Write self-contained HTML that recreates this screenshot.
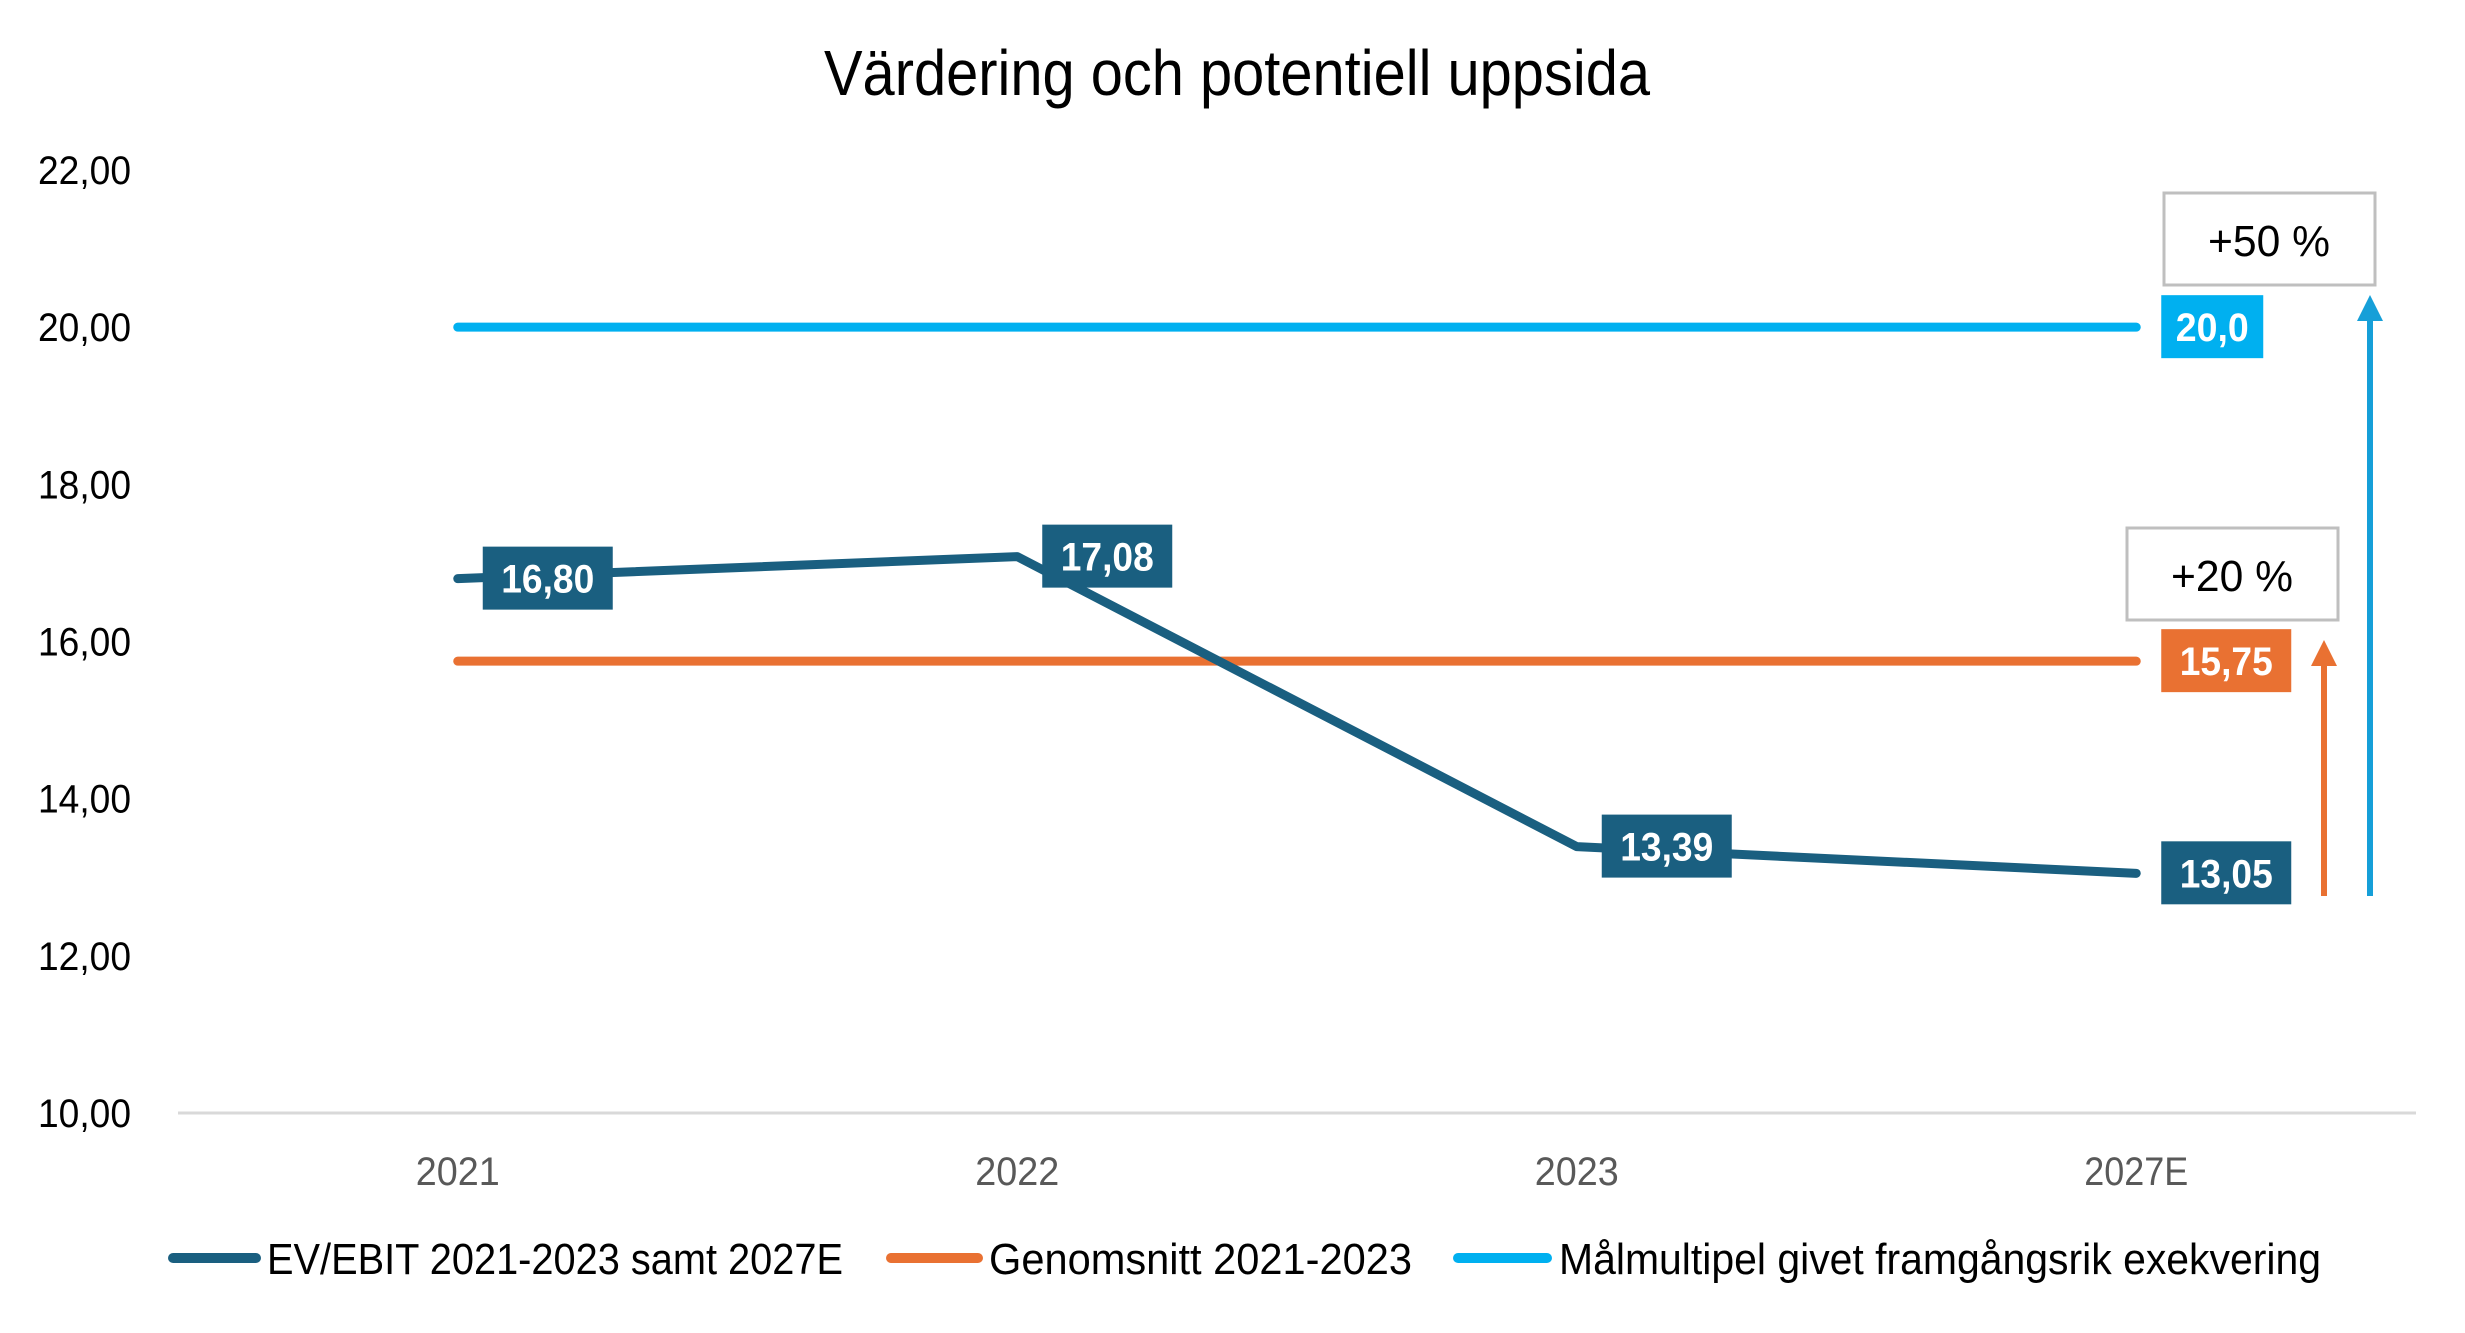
<!DOCTYPE html>
<html><head><meta charset="utf-8"><style>
html,body{margin:0;padding:0;background:#fff;}
svg{display:block;font-family:"Liberation Sans",sans-serif;}
</style></head><body>
<svg id="chart" width="2465" height="1333" viewBox="0 0 2465 1333" xmlns="http://www.w3.org/2000/svg">
<rect width="2465" height="1333" fill="#fff"/>
<text x="1237" y="95" text-anchor="middle" font-size="64" textLength="826" lengthAdjust="spacingAndGlyphs" fill="#000">Värdering och potentiell uppsida</text>
<g id="yaxis"></g><g id="xaxis"></g><g id="series"></g><g id="labels"></g>
<g id="annot">
<line x1="2324" y1="896" x2="2324" y2="660" stroke="#E97132" stroke-width="6"/>
<polygon points="2324,640 2311,666 2337,666" fill="#E97132"/>
<line x1="2370" y1="896" x2="2370" y2="315" stroke="#169FD8" stroke-width="6"/>
<polygon points="2370,295 2357,321 2383,321" fill="#169FD8"/>
<rect x="2164" y="193" width="211" height="92" fill="#fff" stroke="#BFBFBF" stroke-width="3"/>
<text x="2269" y="256" text-anchor="middle" font-size="44" textLength="122" lengthAdjust="spacingAndGlyphs" fill="#000">+50 %</text>
<rect x="2127" y="528" width="211" height="92" fill="#fff" stroke="#BFBFBF" stroke-width="3"/>
<text x="2232" y="591" text-anchor="middle" font-size="44" textLength="122" lengthAdjust="spacingAndGlyphs" fill="#000">+20 %</text>
</g>
<g id="legend"></g>
</svg>
<script>
const categories = ["2021","2022","2023","2027E"];
const evEbit = [16.80, 17.08, 13.39, 13.05];
const evEbitLabels = ["16,80","17,08","13,39","13,05"];
const average = [15.75, 15.75, 15.75, 15.75];
const averageLabel = "15,75";
const target = [20.0, 20.0, 20.0, 20.0];
const targetLabel = "20,0";
const yTicks = [10, 12, 14, 16, 18, 20, 22];
const yTickLabels = ["10,00","12,00","14,00","16,00","18,00","20,00","22,00"];
const legendNames = ["EV/EBIT 2021-2023 samt 2027E","Genomsnitt 2021-2023","Målmultipel givet framgångsrik exekvering"];

const NS="http://www.w3.org/2000/svg";
const plotL=178, plotR=2416, yMin=10, yMax=22, yTop=170, yBot=1113;
const band=(plotR-plotL)/categories.length;
function xS(i){return plotL+band*(i+0.5);}
function yS(v){return yBot-(v-yMin)/(yMax-yMin)*(yBot-yTop);}
function mk(tag,attrs,parent,txt){const e=document.createElementNS(NS,tag);for(const k in attrs)e.setAttribute(k,attrs[k]);if(txt!==undefined)e.textContent=txt;parent.appendChild(e);return e;}
const gy=document.getElementById('yaxis'),gx=document.getElementById('xaxis'),gs=document.getElementById('series'),gl=document.getElementById('labels'),gleg=document.getElementById('legend');

yTicks.forEach((t,i)=>{
  const e=mk('text',{x:131,y:yS(t)+14,'text-anchor':'end','font-size':40,fill:'#000',textLength:93,lengthAdjust:'spacingAndGlyphs'},gy,yTickLabels[i]);
  
  
});
const ax=mk('line',{x1:plotL,y1:yBot,x2:plotR,y2:yBot,stroke:'#D9D9D9','stroke-width':3},gx);


const xw=[84,84,84,104];
categories.forEach((c,i)=>{
  const e=mk('text',{x:xS(i),y:1185,'text-anchor':'middle','font-size':40,fill:'#595959',textLength:xw[i],lengthAdjust:'spacingAndGlyphs'},gx,c);
  
  
});

function line(vals,color,name){
  const pts=vals.map((v,i)=>xS(i)+','+yS(v)).join(' ');
  const e=mk('polyline',{points:pts,fill:'none',stroke:color,'stroke-width':9,'stroke-linecap':'round','stroke-linejoin':'round'},gs);
  
  
}
line(target,'#00B0F0','target-multiple-line');
line(average,'#E97132','average-line');
line(evEbit,'#1A5F80','ev-ebit-line');

function label(i,v,txt,color,w,tw,name){
  const x=xS(i)+25, y=yS(v);
  const r=mk('rect',{x:x,y:y-32,width:w,height:63,fill:color},gl);
  
  
  const t=mk('text',{x:x+w/2,y:y+14,'text-anchor':'middle','font-size':40,'font-weight':'bold',fill:'#fff',textLength:tw,lengthAdjust:'spacingAndGlyphs'},gl,txt);
  
  
}
evEbit.forEach((v,i)=>label(i,v,evEbitLabels[i],'#1A5F80',130,93,'ev-ebit-label'));
label(3,average[3],averageLabel,'#E97132',130,93,'average-label');
label(3,target[3],targetLabel,'#00B0F0',102,73,'target-label');

const legX=[[173,256,267,576],[891,978,989,423],[1458,1547,1559,762]];
const legC=['#1A5F80','#E97132','#00B0F0'];
legendNames.forEach((n,i)=>{
  const l=mk('line',{x1:legX[i][0],y1:1258,x2:legX[i][1],y2:1258,stroke:legC[i],'stroke-width':10,'stroke-linecap':'round'},gleg);
  
  
  const t=mk('text',{x:legX[i][2],y:1274,'font-size':44,fill:'#000',textLength:legX[i][3],lengthAdjust:'spacingAndGlyphs'},gleg,n);
  
  
});
</script>
</body></html>
